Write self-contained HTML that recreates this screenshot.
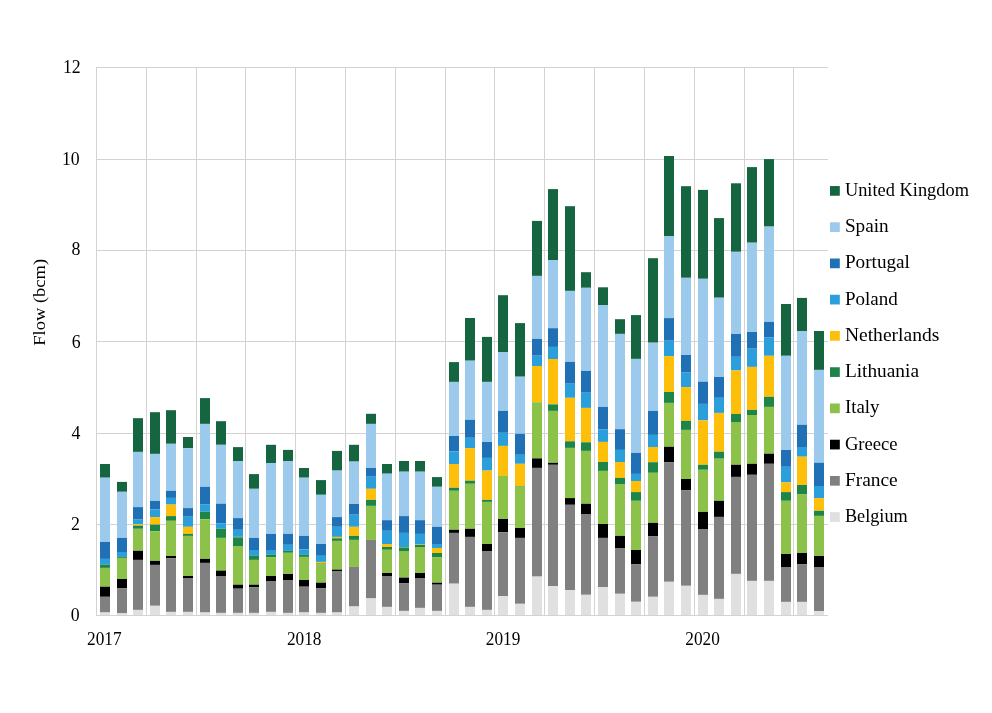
<!DOCTYPE html><html><head><meta charset="utf-8"><style>html,body{margin:0;padding:0;background:#fff;}svg{display:block;will-change:transform;}text{font-family:"Liberation Serif",serif;fill:#000;}</style></head><body>
<svg width="992" height="713" viewBox="0 0 992 713">
<rect width="992" height="713" fill="#fff"/>
<rect x="96" y="67" width="732" height="1" fill="#d3d3d3"/>
<rect x="96" y="159" width="732" height="1" fill="#d3d3d3"/>
<rect x="96" y="250" width="732" height="1" fill="#d3d3d3"/>
<rect x="96" y="341" width="732" height="1" fill="#d3d3d3"/>
<rect x="96" y="433" width="732" height="1" fill="#d3d3d3"/>
<rect x="96" y="524" width="732" height="1" fill="#d3d3d3"/>
<rect x="96" y="67" width="1" height="549" fill="#d3d3d3"/>
<rect x="146" y="67" width="1" height="549" fill="#d3d3d3"/>
<rect x="196" y="67" width="1" height="549" fill="#d3d3d3"/>
<rect x="245" y="67" width="1" height="549" fill="#d3d3d3"/>
<rect x="295" y="67" width="1" height="549" fill="#d3d3d3"/>
<rect x="345" y="67" width="1" height="549" fill="#d3d3d3"/>
<rect x="395" y="67" width="1" height="549" fill="#d3d3d3"/>
<rect x="445" y="67" width="1" height="549" fill="#d3d3d3"/>
<rect x="494" y="67" width="1" height="549" fill="#d3d3d3"/>
<rect x="544" y="67" width="1" height="549" fill="#d3d3d3"/>
<rect x="594" y="67" width="1" height="549" fill="#d3d3d3"/>
<rect x="644" y="67" width="1" height="549" fill="#d3d3d3"/>
<rect x="694" y="67" width="1" height="549" fill="#d3d3d3"/>
<rect x="744" y="67" width="1" height="549" fill="#d3d3d3"/>
<rect x="793" y="67" width="1" height="549" fill="#d3d3d3"/>
<rect x="96" y="615" width="732" height="1" fill="#d3d3d3"/>
<rect x="100.00" y="464.00" width="10" height="13.70" fill="#146540"/>
<rect x="100.00" y="477.70" width="10" height="64.20" fill="#9ccaed"/>
<rect x="100.00" y="541.90" width="10" height="17.00" fill="#1f70b5"/>
<rect x="100.00" y="558.90" width="10" height="5.60" fill="#2a9fdb"/>
<rect x="100.00" y="564.50" width="10" height="3.40" fill="#1e8549"/>
<rect x="100.00" y="567.90" width="10" height="18.80" fill="#8cc24a"/>
<rect x="100.00" y="586.70" width="10" height="10.10" fill="#000000"/>
<rect x="100.00" y="596.80" width="10" height="15.70" fill="#808080"/>
<rect x="100.00" y="612.50" width="10" height="2.50" fill="#e0e0e0"/>
<rect x="117.00" y="481.90" width="10" height="9.90" fill="#146540"/>
<rect x="117.00" y="491.80" width="10" height="46.10" fill="#9ccaed"/>
<rect x="117.00" y="537.90" width="10" height="14.10" fill="#1f70b5"/>
<rect x="117.00" y="552.00" width="10" height="4.90" fill="#2a9fdb"/>
<rect x="117.00" y="556.90" width="10" height="1.00" fill="#1e8549"/>
<rect x="117.00" y="557.90" width="10" height="21.10" fill="#8cc24a"/>
<rect x="117.00" y="579.00" width="10" height="9.10" fill="#000000"/>
<rect x="117.00" y="588.10" width="10" height="25.20" fill="#808080"/>
<rect x="117.00" y="613.30" width="10" height="1.70" fill="#e0e0e0"/>
<rect x="133.00" y="418.20" width="10" height="33.70" fill="#146540"/>
<rect x="133.00" y="451.90" width="10" height="55.20" fill="#9ccaed"/>
<rect x="133.00" y="507.10" width="10" height="12.50" fill="#1f70b5"/>
<rect x="133.00" y="519.60" width="10" height="4.60" fill="#2a9fdb"/>
<rect x="133.00" y="524.20" width="10" height="1.40" fill="#fdbf0a"/>
<rect x="133.00" y="525.60" width="10" height="3.20" fill="#1e8549"/>
<rect x="133.00" y="528.80" width="10" height="22.00" fill="#8cc24a"/>
<rect x="133.00" y="550.80" width="10" height="9.10" fill="#000000"/>
<rect x="133.00" y="559.90" width="10" height="50.00" fill="#808080"/>
<rect x="133.00" y="609.90" width="10" height="5.10" fill="#e0e0e0"/>
<rect x="150.00" y="412.20" width="10" height="41.70" fill="#146540"/>
<rect x="150.00" y="453.90" width="10" height="47.00" fill="#9ccaed"/>
<rect x="150.00" y="500.90" width="10" height="8.60" fill="#1f70b5"/>
<rect x="150.00" y="509.50" width="10" height="7.60" fill="#2a9fdb"/>
<rect x="150.00" y="517.10" width="10" height="7.50" fill="#fdbf0a"/>
<rect x="150.00" y="524.60" width="10" height="6.70" fill="#1e8549"/>
<rect x="150.00" y="531.30" width="10" height="29.60" fill="#8cc24a"/>
<rect x="150.00" y="560.90" width="10" height="4.00" fill="#000000"/>
<rect x="150.00" y="564.90" width="10" height="40.90" fill="#808080"/>
<rect x="150.00" y="605.80" width="10" height="9.20" fill="#e0e0e0"/>
<rect x="166.00" y="410.20" width="10" height="33.60" fill="#146540"/>
<rect x="166.00" y="443.80" width="10" height="47.00" fill="#9ccaed"/>
<rect x="166.00" y="490.80" width="10" height="7.10" fill="#1f70b5"/>
<rect x="166.00" y="497.90" width="10" height="6.70" fill="#2a9fdb"/>
<rect x="166.00" y="504.60" width="10" height="11.50" fill="#fdbf0a"/>
<rect x="166.00" y="516.10" width="10" height="4.70" fill="#1e8549"/>
<rect x="166.00" y="520.80" width="10" height="35.20" fill="#8cc24a"/>
<rect x="166.00" y="556.00" width="10" height="2.10" fill="#000000"/>
<rect x="166.00" y="558.10" width="10" height="53.80" fill="#808080"/>
<rect x="166.00" y="611.90" width="10" height="3.10" fill="#e0e0e0"/>
<rect x="183.00" y="437.00" width="10" height="11.10" fill="#146540"/>
<rect x="183.00" y="448.10" width="10" height="60.00" fill="#9ccaed"/>
<rect x="183.00" y="508.10" width="10" height="8.60" fill="#1f70b5"/>
<rect x="183.00" y="516.70" width="10" height="10.10" fill="#2a9fdb"/>
<rect x="183.00" y="526.80" width="10" height="7.10" fill="#fdbf0a"/>
<rect x="183.00" y="533.90" width="10" height="2.00" fill="#1e8549"/>
<rect x="183.00" y="535.90" width="10" height="40.10" fill="#8cc24a"/>
<rect x="183.00" y="576.00" width="10" height="2.00" fill="#000000"/>
<rect x="183.00" y="578.00" width="10" height="33.90" fill="#808080"/>
<rect x="183.00" y="611.90" width="10" height="3.10" fill="#e0e0e0"/>
<rect x="200.00" y="398.10" width="10" height="25.80" fill="#146540"/>
<rect x="200.00" y="423.90" width="10" height="62.90" fill="#9ccaed"/>
<rect x="200.00" y="486.80" width="10" height="17.80" fill="#1f70b5"/>
<rect x="200.00" y="504.60" width="10" height="7.10" fill="#2a9fdb"/>
<rect x="200.00" y="511.70" width="10" height="7.50" fill="#1e8549"/>
<rect x="200.00" y="519.20" width="10" height="39.70" fill="#8cc24a"/>
<rect x="200.00" y="558.90" width="10" height="4.00" fill="#000000"/>
<rect x="200.00" y="562.90" width="10" height="49.60" fill="#808080"/>
<rect x="200.00" y="612.50" width="10" height="2.50" fill="#e0e0e0"/>
<rect x="216.00" y="421.20" width="10" height="23.60" fill="#146540"/>
<rect x="216.00" y="444.80" width="10" height="58.90" fill="#9ccaed"/>
<rect x="216.00" y="503.70" width="10" height="19.50" fill="#1f70b5"/>
<rect x="216.00" y="523.20" width="10" height="5.40" fill="#2a9fdb"/>
<rect x="216.00" y="528.60" width="10" height="9.30" fill="#1e8549"/>
<rect x="216.00" y="537.90" width="10" height="32.70" fill="#8cc24a"/>
<rect x="216.00" y="570.60" width="10" height="5.40" fill="#000000"/>
<rect x="216.00" y="576.00" width="10" height="36.90" fill="#808080"/>
<rect x="216.00" y="612.90" width="10" height="2.10" fill="#e0e0e0"/>
<rect x="233.00" y="447.10" width="10" height="13.90" fill="#146540"/>
<rect x="233.00" y="461.00" width="10" height="57.10" fill="#9ccaed"/>
<rect x="233.00" y="518.10" width="10" height="11.70" fill="#1f70b5"/>
<rect x="233.00" y="529.80" width="10" height="7.10" fill="#2a9fdb"/>
<rect x="233.00" y="536.90" width="10" height="0.40" fill="#fdbf0a"/>
<rect x="233.00" y="537.30" width="10" height="8.70" fill="#1e8549"/>
<rect x="233.00" y="546.00" width="10" height="38.70" fill="#8cc24a"/>
<rect x="233.00" y="584.70" width="10" height="4.00" fill="#000000"/>
<rect x="233.00" y="588.70" width="10" height="24.20" fill="#808080"/>
<rect x="233.00" y="612.90" width="10" height="2.10" fill="#e0e0e0"/>
<rect x="249.00" y="474.10" width="10" height="14.70" fill="#146540"/>
<rect x="249.00" y="488.80" width="10" height="49.10" fill="#9ccaed"/>
<rect x="249.00" y="537.90" width="10" height="12.10" fill="#1f70b5"/>
<rect x="249.00" y="550.00" width="10" height="5.40" fill="#2a9fdb"/>
<rect x="249.00" y="555.40" width="10" height="4.50" fill="#1e8549"/>
<rect x="249.00" y="559.90" width="10" height="24.80" fill="#8cc24a"/>
<rect x="249.00" y="584.70" width="10" height="2.40" fill="#000000"/>
<rect x="249.00" y="587.10" width="10" height="25.80" fill="#808080"/>
<rect x="249.00" y="612.90" width="10" height="2.10" fill="#e0e0e0"/>
<rect x="266.00" y="444.80" width="10" height="18.20" fill="#146540"/>
<rect x="266.00" y="463.00" width="10" height="70.90" fill="#9ccaed"/>
<rect x="266.00" y="533.90" width="10" height="16.10" fill="#1f70b5"/>
<rect x="266.00" y="550.00" width="10" height="4.80" fill="#2a9fdb"/>
<rect x="266.00" y="554.80" width="10" height="2.30" fill="#1e8549"/>
<rect x="266.00" y="557.10" width="10" height="18.90" fill="#8cc24a"/>
<rect x="266.00" y="576.00" width="10" height="5.00" fill="#000000"/>
<rect x="266.00" y="581.00" width="10" height="30.90" fill="#808080"/>
<rect x="266.00" y="611.90" width="10" height="3.10" fill="#e0e0e0"/>
<rect x="283.00" y="449.90" width="10" height="11.10" fill="#146540"/>
<rect x="283.00" y="461.00" width="10" height="72.90" fill="#9ccaed"/>
<rect x="283.00" y="533.90" width="10" height="10.90" fill="#1f70b5"/>
<rect x="283.00" y="544.80" width="10" height="6.00" fill="#2a9fdb"/>
<rect x="283.00" y="550.80" width="10" height="2.00" fill="#1e8549"/>
<rect x="283.00" y="552.80" width="10" height="21.20" fill="#8cc24a"/>
<rect x="283.00" y="574.00" width="10" height="6.00" fill="#000000"/>
<rect x="283.00" y="580.00" width="10" height="32.90" fill="#808080"/>
<rect x="283.00" y="612.90" width="10" height="2.10" fill="#e0e0e0"/>
<rect x="299.00" y="468.00" width="10" height="9.70" fill="#146540"/>
<rect x="299.00" y="477.70" width="10" height="58.20" fill="#9ccaed"/>
<rect x="299.00" y="535.90" width="10" height="13.50" fill="#1f70b5"/>
<rect x="299.00" y="549.40" width="10" height="5.40" fill="#2a9fdb"/>
<rect x="299.00" y="554.80" width="10" height="2.10" fill="#1e8549"/>
<rect x="299.00" y="556.90" width="10" height="23.10" fill="#8cc24a"/>
<rect x="299.00" y="580.00" width="10" height="6.70" fill="#000000"/>
<rect x="299.00" y="586.70" width="10" height="25.80" fill="#808080"/>
<rect x="299.00" y="612.50" width="10" height="2.50" fill="#e0e0e0"/>
<rect x="316.00" y="480.10" width="10" height="14.70" fill="#146540"/>
<rect x="316.00" y="494.80" width="10" height="49.20" fill="#9ccaed"/>
<rect x="316.00" y="544.00" width="10" height="11.80" fill="#1f70b5"/>
<rect x="316.00" y="555.80" width="10" height="6.10" fill="#2a9fdb"/>
<rect x="316.00" y="561.90" width="10" height="1.60" fill="#fdbf0a"/>
<rect x="316.00" y="563.50" width="10" height="1.00" fill="#1e8549"/>
<rect x="316.00" y="564.50" width="10" height="18.20" fill="#8cc24a"/>
<rect x="316.00" y="582.70" width="10" height="5.40" fill="#000000"/>
<rect x="316.00" y="588.10" width="10" height="24.80" fill="#808080"/>
<rect x="316.00" y="612.90" width="10" height="2.10" fill="#e0e0e0"/>
<rect x="332.00" y="450.90" width="10" height="19.70" fill="#146540"/>
<rect x="332.00" y="470.60" width="10" height="46.50" fill="#9ccaed"/>
<rect x="332.00" y="517.10" width="10" height="9.70" fill="#1f70b5"/>
<rect x="332.00" y="526.80" width="10" height="10.10" fill="#2a9fdb"/>
<rect x="332.00" y="536.90" width="10" height="1.40" fill="#fdbf0a"/>
<rect x="332.00" y="538.30" width="10" height="2.60" fill="#1e8549"/>
<rect x="332.00" y="540.90" width="10" height="28.70" fill="#8cc24a"/>
<rect x="332.00" y="569.60" width="10" height="1.40" fill="#000000"/>
<rect x="332.00" y="571.00" width="10" height="41.50" fill="#808080"/>
<rect x="332.00" y="612.50" width="10" height="2.50" fill="#e0e0e0"/>
<rect x="349.00" y="444.80" width="10" height="16.80" fill="#146540"/>
<rect x="349.00" y="461.60" width="10" height="42.40" fill="#9ccaed"/>
<rect x="349.00" y="504.00" width="10" height="10.70" fill="#1f70b5"/>
<rect x="349.00" y="514.70" width="10" height="12.10" fill="#2a9fdb"/>
<rect x="349.00" y="526.80" width="10" height="9.10" fill="#fdbf0a"/>
<rect x="349.00" y="535.90" width="10" height="4.00" fill="#1e8549"/>
<rect x="349.00" y="539.90" width="10" height="27.00" fill="#8cc24a"/>
<rect x="349.00" y="566.90" width="10" height="39.60" fill="#808080"/>
<rect x="349.00" y="606.50" width="10" height="8.50" fill="#e0e0e0"/>
<rect x="366.00" y="413.80" width="10" height="10.10" fill="#146540"/>
<rect x="366.00" y="423.90" width="10" height="44.10" fill="#9ccaed"/>
<rect x="366.00" y="468.00" width="10" height="8.70" fill="#1f70b5"/>
<rect x="366.00" y="476.70" width="10" height="12.10" fill="#2a9fdb"/>
<rect x="366.00" y="488.80" width="10" height="11.10" fill="#fdbf0a"/>
<rect x="366.00" y="499.90" width="10" height="6.00" fill="#1e8549"/>
<rect x="366.00" y="505.90" width="10" height="34.00" fill="#8cc24a"/>
<rect x="366.00" y="539.90" width="10" height="58.50" fill="#808080"/>
<rect x="366.00" y="598.40" width="10" height="16.60" fill="#e0e0e0"/>
<rect x="382.00" y="464.00" width="10" height="9.70" fill="#146540"/>
<rect x="382.00" y="473.70" width="10" height="46.50" fill="#9ccaed"/>
<rect x="382.00" y="520.20" width="10" height="10.60" fill="#1f70b5"/>
<rect x="382.00" y="530.80" width="10" height="13.20" fill="#2a9fdb"/>
<rect x="382.00" y="544.00" width="10" height="3.00" fill="#fdbf0a"/>
<rect x="382.00" y="547.00" width="10" height="2.80" fill="#1e8549"/>
<rect x="382.00" y="549.80" width="10" height="23.20" fill="#8cc24a"/>
<rect x="382.00" y="573.00" width="10" height="3.00" fill="#000000"/>
<rect x="382.00" y="576.00" width="10" height="30.90" fill="#808080"/>
<rect x="382.00" y="606.90" width="10" height="8.10" fill="#e0e0e0"/>
<rect x="399.00" y="461.00" width="10" height="10.70" fill="#146540"/>
<rect x="399.00" y="471.70" width="10" height="44.40" fill="#9ccaed"/>
<rect x="399.00" y="516.10" width="10" height="16.80" fill="#1f70b5"/>
<rect x="399.00" y="532.90" width="10" height="14.10" fill="#2a9fdb"/>
<rect x="399.00" y="547.00" width="10" height="0.40" fill="#fdbf0a"/>
<rect x="399.00" y="547.40" width="10" height="3.60" fill="#1e8549"/>
<rect x="399.00" y="551.00" width="10" height="26.60" fill="#8cc24a"/>
<rect x="399.00" y="577.60" width="10" height="5.50" fill="#000000"/>
<rect x="399.00" y="583.10" width="10" height="27.80" fill="#808080"/>
<rect x="399.00" y="610.90" width="10" height="4.10" fill="#e0e0e0"/>
<rect x="415.00" y="461.00" width="10" height="10.70" fill="#146540"/>
<rect x="415.00" y="471.70" width="10" height="48.50" fill="#9ccaed"/>
<rect x="415.00" y="520.20" width="10" height="13.70" fill="#1f70b5"/>
<rect x="415.00" y="533.90" width="10" height="10.50" fill="#2a9fdb"/>
<rect x="415.00" y="544.40" width="10" height="0.40" fill="#fdbf0a"/>
<rect x="415.00" y="544.80" width="10" height="2.20" fill="#1e8549"/>
<rect x="415.00" y="547.00" width="10" height="26.00" fill="#8cc24a"/>
<rect x="415.00" y="573.00" width="10" height="5.00" fill="#000000"/>
<rect x="415.00" y="578.00" width="10" height="29.90" fill="#808080"/>
<rect x="415.00" y="607.90" width="10" height="7.10" fill="#e0e0e0"/>
<rect x="432.00" y="477.10" width="10" height="9.70" fill="#146540"/>
<rect x="432.00" y="486.80" width="10" height="40.00" fill="#9ccaed"/>
<rect x="432.00" y="526.80" width="10" height="17.20" fill="#1f70b5"/>
<rect x="432.00" y="544.00" width="10" height="4.00" fill="#2a9fdb"/>
<rect x="432.00" y="548.00" width="10" height="5.00" fill="#fdbf0a"/>
<rect x="432.00" y="553.00" width="10" height="4.10" fill="#1e8549"/>
<rect x="432.00" y="557.10" width="10" height="25.60" fill="#8cc24a"/>
<rect x="432.00" y="582.70" width="10" height="2.00" fill="#000000"/>
<rect x="432.00" y="584.70" width="10" height="26.20" fill="#808080"/>
<rect x="432.00" y="610.90" width="10" height="4.10" fill="#e0e0e0"/>
<rect x="449.00" y="362.10" width="10" height="19.80" fill="#146540"/>
<rect x="449.00" y="381.90" width="10" height="54.10" fill="#9ccaed"/>
<rect x="449.00" y="436.00" width="10" height="15.50" fill="#1f70b5"/>
<rect x="449.00" y="451.50" width="10" height="12.50" fill="#2a9fdb"/>
<rect x="449.00" y="464.00" width="10" height="23.80" fill="#fdbf0a"/>
<rect x="449.00" y="487.80" width="10" height="3.00" fill="#1e8549"/>
<rect x="449.00" y="490.80" width="10" height="39.00" fill="#8cc24a"/>
<rect x="449.00" y="529.80" width="10" height="3.10" fill="#000000"/>
<rect x="449.00" y="532.90" width="10" height="50.80" fill="#808080"/>
<rect x="449.00" y="583.70" width="10" height="31.30" fill="#e0e0e0"/>
<rect x="465.00" y="318.00" width="10" height="42.70" fill="#146540"/>
<rect x="465.00" y="360.70" width="10" height="59.10" fill="#9ccaed"/>
<rect x="465.00" y="419.80" width="10" height="18.00" fill="#1f70b5"/>
<rect x="465.00" y="437.80" width="10" height="10.30" fill="#2a9fdb"/>
<rect x="465.00" y="448.10" width="10" height="32.60" fill="#fdbf0a"/>
<rect x="465.00" y="480.70" width="10" height="3.10" fill="#1e8549"/>
<rect x="465.00" y="483.80" width="10" height="45.00" fill="#8cc24a"/>
<rect x="465.00" y="528.80" width="10" height="8.10" fill="#000000"/>
<rect x="465.00" y="536.90" width="10" height="70.00" fill="#808080"/>
<rect x="465.00" y="606.90" width="10" height="8.10" fill="#e0e0e0"/>
<rect x="482.00" y="336.90" width="10" height="45.00" fill="#146540"/>
<rect x="482.00" y="381.90" width="10" height="60.10" fill="#9ccaed"/>
<rect x="482.00" y="442.00" width="10" height="15.90" fill="#1f70b5"/>
<rect x="482.00" y="457.90" width="10" height="12.70" fill="#2a9fdb"/>
<rect x="482.00" y="470.60" width="10" height="29.30" fill="#fdbf0a"/>
<rect x="482.00" y="499.90" width="10" height="2.00" fill="#1e8549"/>
<rect x="482.00" y="501.90" width="10" height="42.10" fill="#8cc24a"/>
<rect x="482.00" y="544.00" width="10" height="7.00" fill="#000000"/>
<rect x="482.00" y="551.00" width="10" height="58.90" fill="#808080"/>
<rect x="482.00" y="609.90" width="10" height="5.10" fill="#e0e0e0"/>
<rect x="498.00" y="295.20" width="10" height="56.80" fill="#146540"/>
<rect x="498.00" y="352.00" width="10" height="58.90" fill="#9ccaed"/>
<rect x="498.00" y="410.90" width="10" height="21.90" fill="#1f70b5"/>
<rect x="498.00" y="432.80" width="10" height="13.10" fill="#2a9fdb"/>
<rect x="498.00" y="445.90" width="10" height="30.00" fill="#fdbf0a"/>
<rect x="498.00" y="475.90" width="10" height="43.10" fill="#8cc24a"/>
<rect x="498.00" y="519.00" width="10" height="13.30" fill="#000000"/>
<rect x="498.00" y="532.30" width="10" height="63.90" fill="#808080"/>
<rect x="498.00" y="596.20" width="10" height="18.80" fill="#e0e0e0"/>
<rect x="515.00" y="323.10" width="10" height="53.60" fill="#146540"/>
<rect x="515.00" y="376.70" width="10" height="57.10" fill="#9ccaed"/>
<rect x="515.00" y="433.80" width="10" height="21.00" fill="#1f70b5"/>
<rect x="515.00" y="454.80" width="10" height="9.00" fill="#2a9fdb"/>
<rect x="515.00" y="463.80" width="10" height="22.20" fill="#fdbf0a"/>
<rect x="515.00" y="486.00" width="10" height="0.60" fill="#1e8549"/>
<rect x="515.00" y="486.60" width="10" height="41.40" fill="#8cc24a"/>
<rect x="515.00" y="528.00" width="10" height="9.90" fill="#000000"/>
<rect x="515.00" y="537.90" width="10" height="65.90" fill="#808080"/>
<rect x="515.00" y="603.80" width="10" height="11.20" fill="#e0e0e0"/>
<rect x="532.00" y="220.90" width="10" height="55.00" fill="#146540"/>
<rect x="532.00" y="275.90" width="10" height="63.00" fill="#9ccaed"/>
<rect x="532.00" y="338.90" width="10" height="16.80" fill="#1f70b5"/>
<rect x="532.00" y="355.70" width="10" height="10.30" fill="#2a9fdb"/>
<rect x="532.00" y="366.00" width="10" height="36.20" fill="#fdbf0a"/>
<rect x="532.00" y="402.20" width="10" height="56.20" fill="#8cc24a"/>
<rect x="532.00" y="458.40" width="10" height="9.50" fill="#000000"/>
<rect x="532.00" y="467.90" width="10" height="108.70" fill="#808080"/>
<rect x="532.00" y="576.60" width="10" height="38.40" fill="#e0e0e0"/>
<rect x="548.00" y="189.10" width="10" height="70.90" fill="#146540"/>
<rect x="548.00" y="260.00" width="10" height="68.20" fill="#9ccaed"/>
<rect x="548.00" y="328.20" width="10" height="18.70" fill="#1f70b5"/>
<rect x="548.00" y="346.90" width="10" height="12.10" fill="#2a9fdb"/>
<rect x="548.00" y="359.00" width="10" height="45.40" fill="#fdbf0a"/>
<rect x="548.00" y="404.40" width="10" height="6.50" fill="#1e8549"/>
<rect x="548.00" y="410.90" width="10" height="51.90" fill="#8cc24a"/>
<rect x="548.00" y="462.80" width="10" height="2.00" fill="#000000"/>
<rect x="548.00" y="464.80" width="10" height="121.30" fill="#808080"/>
<rect x="548.00" y="586.10" width="10" height="28.90" fill="#e0e0e0"/>
<rect x="565.00" y="206.20" width="10" height="84.70" fill="#146540"/>
<rect x="565.00" y="290.90" width="10" height="71.00" fill="#9ccaed"/>
<rect x="565.00" y="361.90" width="10" height="21.80" fill="#1f70b5"/>
<rect x="565.00" y="383.70" width="10" height="14.10" fill="#2a9fdb"/>
<rect x="565.00" y="397.80" width="10" height="43.50" fill="#fdbf0a"/>
<rect x="565.00" y="441.30" width="10" height="6.60" fill="#1e8549"/>
<rect x="565.00" y="447.90" width="10" height="50.20" fill="#8cc24a"/>
<rect x="565.00" y="498.10" width="10" height="6.70" fill="#000000"/>
<rect x="565.00" y="504.80" width="10" height="85.30" fill="#808080"/>
<rect x="565.00" y="590.10" width="10" height="24.90" fill="#e0e0e0"/>
<rect x="581.00" y="272.20" width="10" height="15.60" fill="#146540"/>
<rect x="581.00" y="287.80" width="10" height="83.10" fill="#9ccaed"/>
<rect x="581.00" y="370.90" width="10" height="21.80" fill="#1f70b5"/>
<rect x="581.00" y="392.70" width="10" height="15.20" fill="#2a9fdb"/>
<rect x="581.00" y="407.90" width="10" height="34.40" fill="#fdbf0a"/>
<rect x="581.00" y="442.30" width="10" height="8.60" fill="#1e8549"/>
<rect x="581.00" y="450.90" width="10" height="52.90" fill="#8cc24a"/>
<rect x="581.00" y="503.80" width="10" height="10.20" fill="#000000"/>
<rect x="581.00" y="514.00" width="10" height="80.80" fill="#808080"/>
<rect x="581.00" y="594.80" width="10" height="20.20" fill="#e0e0e0"/>
<rect x="598.00" y="287.30" width="10" height="17.70" fill="#146540"/>
<rect x="598.00" y="305.00" width="10" height="101.90" fill="#9ccaed"/>
<rect x="598.00" y="406.90" width="10" height="22.30" fill="#1f70b5"/>
<rect x="598.00" y="429.20" width="10" height="12.70" fill="#2a9fdb"/>
<rect x="598.00" y="441.90" width="10" height="20.10" fill="#fdbf0a"/>
<rect x="598.00" y="462.00" width="10" height="8.90" fill="#1e8549"/>
<rect x="598.00" y="470.90" width="10" height="53.10" fill="#8cc24a"/>
<rect x="598.00" y="524.00" width="10" height="13.90" fill="#000000"/>
<rect x="598.00" y="537.90" width="10" height="49.20" fill="#808080"/>
<rect x="598.00" y="587.10" width="10" height="27.90" fill="#e0e0e0"/>
<rect x="615.00" y="319.20" width="10" height="14.70" fill="#146540"/>
<rect x="615.00" y="333.90" width="10" height="95.30" fill="#9ccaed"/>
<rect x="615.00" y="429.20" width="10" height="20.70" fill="#1f70b5"/>
<rect x="615.00" y="449.90" width="10" height="12.10" fill="#2a9fdb"/>
<rect x="615.00" y="462.00" width="10" height="15.90" fill="#fdbf0a"/>
<rect x="615.00" y="477.90" width="10" height="6.10" fill="#1e8549"/>
<rect x="615.00" y="484.00" width="10" height="51.90" fill="#8cc24a"/>
<rect x="615.00" y="535.90" width="10" height="12.10" fill="#000000"/>
<rect x="615.00" y="548.00" width="10" height="45.80" fill="#808080"/>
<rect x="615.00" y="593.80" width="10" height="21.20" fill="#e0e0e0"/>
<rect x="631.00" y="315.10" width="10" height="43.80" fill="#146540"/>
<rect x="631.00" y="358.90" width="10" height="94.00" fill="#9ccaed"/>
<rect x="631.00" y="452.90" width="10" height="21.00" fill="#1f70b5"/>
<rect x="631.00" y="473.90" width="10" height="7.10" fill="#2a9fdb"/>
<rect x="631.00" y="481.00" width="10" height="11.10" fill="#fdbf0a"/>
<rect x="631.00" y="492.10" width="10" height="8.70" fill="#1e8549"/>
<rect x="631.00" y="500.80" width="10" height="49.20" fill="#8cc24a"/>
<rect x="631.00" y="550.00" width="10" height="14.10" fill="#000000"/>
<rect x="631.00" y="564.10" width="10" height="37.70" fill="#808080"/>
<rect x="631.00" y="601.80" width="10" height="13.20" fill="#e0e0e0"/>
<rect x="648.00" y="258.20" width="10" height="84.50" fill="#146540"/>
<rect x="648.00" y="342.70" width="10" height="68.20" fill="#9ccaed"/>
<rect x="648.00" y="410.90" width="10" height="24.00" fill="#1f70b5"/>
<rect x="648.00" y="434.90" width="10" height="12.10" fill="#2a9fdb"/>
<rect x="648.00" y="447.00" width="10" height="15.20" fill="#fdbf0a"/>
<rect x="648.00" y="462.20" width="10" height="10.60" fill="#1e8549"/>
<rect x="648.00" y="472.80" width="10" height="50.10" fill="#8cc24a"/>
<rect x="648.00" y="522.90" width="10" height="13.20" fill="#000000"/>
<rect x="648.00" y="536.10" width="10" height="60.70" fill="#808080"/>
<rect x="648.00" y="596.80" width="10" height="18.20" fill="#e0e0e0"/>
<rect x="664.00" y="156.00" width="10" height="80.00" fill="#146540"/>
<rect x="664.00" y="236.00" width="10" height="82.10" fill="#9ccaed"/>
<rect x="664.00" y="318.10" width="10" height="22.60" fill="#1f70b5"/>
<rect x="664.00" y="340.70" width="10" height="15.40" fill="#2a9fdb"/>
<rect x="664.00" y="356.10" width="10" height="35.90" fill="#fdbf0a"/>
<rect x="664.00" y="392.00" width="10" height="10.90" fill="#1e8549"/>
<rect x="664.00" y="402.90" width="10" height="43.90" fill="#8cc24a"/>
<rect x="664.00" y="446.80" width="10" height="15.30" fill="#000000"/>
<rect x="664.00" y="462.10" width="10" height="119.70" fill="#808080"/>
<rect x="664.00" y="581.80" width="10" height="33.20" fill="#e0e0e0"/>
<rect x="681.00" y="186.20" width="10" height="91.60" fill="#146540"/>
<rect x="681.00" y="277.80" width="10" height="77.20" fill="#9ccaed"/>
<rect x="681.00" y="355.00" width="10" height="17.60" fill="#1f70b5"/>
<rect x="681.00" y="372.60" width="10" height="14.50" fill="#2a9fdb"/>
<rect x="681.00" y="387.10" width="10" height="33.80" fill="#fdbf0a"/>
<rect x="681.00" y="420.90" width="10" height="9.00" fill="#1e8549"/>
<rect x="681.00" y="429.90" width="10" height="49.10" fill="#8cc24a"/>
<rect x="681.00" y="479.00" width="10" height="11.10" fill="#000000"/>
<rect x="681.00" y="490.10" width="10" height="95.70" fill="#808080"/>
<rect x="681.00" y="585.80" width="10" height="29.20" fill="#e0e0e0"/>
<rect x="698.00" y="189.90" width="10" height="88.90" fill="#146540"/>
<rect x="698.00" y="278.80" width="10" height="102.90" fill="#9ccaed"/>
<rect x="698.00" y="381.70" width="10" height="22.20" fill="#1f70b5"/>
<rect x="698.00" y="403.90" width="10" height="16.50" fill="#2a9fdb"/>
<rect x="698.00" y="420.40" width="10" height="44.40" fill="#fdbf0a"/>
<rect x="698.00" y="464.80" width="10" height="5.00" fill="#1e8549"/>
<rect x="698.00" y="469.80" width="10" height="42.10" fill="#8cc24a"/>
<rect x="698.00" y="511.90" width="10" height="17.10" fill="#000000"/>
<rect x="698.00" y="529.00" width="10" height="65.90" fill="#808080"/>
<rect x="698.00" y="594.90" width="10" height="20.10" fill="#e0e0e0"/>
<rect x="714.00" y="218.10" width="10" height="79.60" fill="#146540"/>
<rect x="714.00" y="297.70" width="10" height="79.30" fill="#9ccaed"/>
<rect x="714.00" y="377.00" width="10" height="20.80" fill="#1f70b5"/>
<rect x="714.00" y="397.80" width="10" height="15.10" fill="#2a9fdb"/>
<rect x="714.00" y="412.90" width="10" height="38.80" fill="#fdbf0a"/>
<rect x="714.00" y="451.70" width="10" height="7.00" fill="#1e8549"/>
<rect x="714.00" y="458.70" width="10" height="42.10" fill="#8cc24a"/>
<rect x="714.00" y="500.80" width="10" height="16.10" fill="#000000"/>
<rect x="714.00" y="516.90" width="10" height="82.00" fill="#808080"/>
<rect x="714.00" y="598.90" width="10" height="16.10" fill="#e0e0e0"/>
<rect x="731.00" y="183.30" width="10" height="68.50" fill="#146540"/>
<rect x="731.00" y="251.80" width="10" height="82.20" fill="#9ccaed"/>
<rect x="731.00" y="334.00" width="10" height="22.80" fill="#1f70b5"/>
<rect x="731.00" y="356.80" width="10" height="13.70" fill="#2a9fdb"/>
<rect x="731.00" y="370.50" width="10" height="43.50" fill="#fdbf0a"/>
<rect x="731.00" y="414.00" width="10" height="8.00" fill="#1e8549"/>
<rect x="731.00" y="422.00" width="10" height="42.80" fill="#8cc24a"/>
<rect x="731.00" y="464.80" width="10" height="12.10" fill="#000000"/>
<rect x="731.00" y="476.90" width="10" height="97.00" fill="#808080"/>
<rect x="731.00" y="573.90" width="10" height="41.10" fill="#e0e0e0"/>
<rect x="747.00" y="167.10" width="10" height="75.60" fill="#146540"/>
<rect x="747.00" y="242.70" width="10" height="89.30" fill="#9ccaed"/>
<rect x="747.00" y="332.00" width="10" height="16.70" fill="#1f70b5"/>
<rect x="747.00" y="348.70" width="10" height="18.20" fill="#2a9fdb"/>
<rect x="747.00" y="366.90" width="10" height="43.00" fill="#fdbf0a"/>
<rect x="747.00" y="409.90" width="10" height="5.10" fill="#1e8549"/>
<rect x="747.00" y="415.00" width="10" height="48.80" fill="#8cc24a"/>
<rect x="747.00" y="463.80" width="10" height="11.00" fill="#000000"/>
<rect x="747.00" y="474.80" width="10" height="106.10" fill="#808080"/>
<rect x="747.00" y="580.90" width="10" height="34.10" fill="#e0e0e0"/>
<rect x="764.00" y="159.10" width="10" height="67.50" fill="#146540"/>
<rect x="764.00" y="226.60" width="10" height="95.30" fill="#9ccaed"/>
<rect x="764.00" y="321.90" width="10" height="15.70" fill="#1f70b5"/>
<rect x="764.00" y="337.60" width="10" height="18.20" fill="#2a9fdb"/>
<rect x="764.00" y="355.80" width="10" height="41.00" fill="#fdbf0a"/>
<rect x="764.00" y="396.80" width="10" height="10.10" fill="#1e8549"/>
<rect x="764.00" y="406.90" width="10" height="46.80" fill="#8cc24a"/>
<rect x="764.00" y="453.70" width="10" height="10.10" fill="#000000"/>
<rect x="764.00" y="463.80" width="10" height="117.10" fill="#808080"/>
<rect x="764.00" y="580.90" width="10" height="34.10" fill="#e0e0e0"/>
<rect x="781.00" y="304.00" width="10" height="51.80" fill="#146540"/>
<rect x="781.00" y="355.80" width="10" height="94.20" fill="#9ccaed"/>
<rect x="781.00" y="450.00" width="10" height="16.80" fill="#1f70b5"/>
<rect x="781.00" y="466.80" width="10" height="15.60" fill="#2a9fdb"/>
<rect x="781.00" y="482.40" width="10" height="9.70" fill="#fdbf0a"/>
<rect x="781.00" y="492.10" width="10" height="8.70" fill="#1e8549"/>
<rect x="781.00" y="500.80" width="10" height="53.20" fill="#8cc24a"/>
<rect x="781.00" y="554.00" width="10" height="13.00" fill="#000000"/>
<rect x="781.00" y="567.00" width="10" height="34.90" fill="#808080"/>
<rect x="781.00" y="601.90" width="10" height="13.10" fill="#e0e0e0"/>
<rect x="797.00" y="297.90" width="10" height="33.10" fill="#146540"/>
<rect x="797.00" y="331.00" width="10" height="93.80" fill="#9ccaed"/>
<rect x="797.00" y="424.80" width="10" height="22.20" fill="#1f70b5"/>
<rect x="797.00" y="447.00" width="10" height="9.70" fill="#2a9fdb"/>
<rect x="797.00" y="456.70" width="10" height="28.30" fill="#fdbf0a"/>
<rect x="797.00" y="485.00" width="10" height="9.10" fill="#1e8549"/>
<rect x="797.00" y="494.10" width="10" height="58.90" fill="#8cc24a"/>
<rect x="797.00" y="553.00" width="10" height="11.10" fill="#000000"/>
<rect x="797.00" y="564.10" width="10" height="37.80" fill="#808080"/>
<rect x="797.00" y="601.90" width="10" height="13.10" fill="#e0e0e0"/>
<rect x="814.00" y="331.00" width="10" height="38.90" fill="#146540"/>
<rect x="814.00" y="369.90" width="10" height="92.80" fill="#9ccaed"/>
<rect x="814.00" y="462.70" width="10" height="23.30" fill="#1f70b5"/>
<rect x="814.00" y="486.00" width="10" height="12.10" fill="#2a9fdb"/>
<rect x="814.00" y="498.10" width="10" height="12.70" fill="#fdbf0a"/>
<rect x="814.00" y="510.80" width="10" height="5.10" fill="#1e8549"/>
<rect x="814.00" y="515.90" width="10" height="40.10" fill="#8cc24a"/>
<rect x="814.00" y="556.00" width="10" height="11.00" fill="#000000"/>
<rect x="814.00" y="567.00" width="10" height="44.00" fill="#808080"/>
<rect x="814.00" y="611.00" width="10" height="4.00" fill="#e0e0e0"/>
<rect x="830" y="186.05" width="9.8" height="9.7" fill="#146540"/>
<rect x="830" y="222.29" width="9.8" height="9.7" fill="#9ccaed"/>
<rect x="830" y="258.53" width="9.8" height="9.7" fill="#1f70b5"/>
<rect x="830" y="294.77" width="9.8" height="9.7" fill="#2a9fdb"/>
<rect x="830" y="331.01" width="9.8" height="9.7" fill="#fdbf0a"/>
<rect x="830" y="367.25" width="9.8" height="9.7" fill="#1e8549"/>
<rect x="830" y="403.49" width="9.8" height="9.7" fill="#8cc24a"/>
<rect x="830" y="439.73" width="9.8" height="9.7" fill="#000000"/>
<rect x="830" y="475.97" width="9.8" height="9.7" fill="#808080"/>
<rect x="830" y="512.21" width="9.8" height="9.7" fill="#e0e0e0"/>
<text font-size="17.30" text-anchor="middle" transform="translate(44.70,302.30) rotate(-90) scale(1.0700,1)">Flow (bcm)</text>
<text font-size="18.20" transform="translate(844.90,195.85) scale(1.0104,1)">United Kingdom</text>
<text font-size="18.20" transform="translate(844.90,232.09) scale(1.0549,1)">Spain</text>
<text font-size="18.20" transform="translate(844.90,268.33) scale(1.0563,1)">Portugal</text>
<text font-size="18.20" transform="translate(844.90,304.57) scale(1.0457,1)">Poland</text>
<text font-size="18.20" transform="translate(844.90,340.81) scale(1.0740,1)">Netherlands</text>
<text font-size="18.20" transform="translate(844.90,377.05) scale(1.0628,1)">Lithuania</text>
<text font-size="18.20" transform="translate(844.90,413.29) scale(1.0355,1)">Italy</text>
<text font-size="18.20" transform="translate(844.90,449.53) scale(1.0232,1)">Greece</text>
<text font-size="18.20" transform="translate(844.90,485.77) scale(1.0677,1)">France</text>
<text font-size="18.20" transform="translate(844.90,522.01) scale(1.0027,1)">Belgium</text>
<text font-size="17.80" transform="translate(70.80,621.25) scale(1.0000,1)">0</text>
<text font-size="17.80" transform="translate(71.00,529.50) scale(1.0000,1)">2</text>
<text font-size="17.80" transform="translate(71.40,438.75) scale(1.0000,1)">4</text>
<text font-size="17.80" transform="translate(71.70,348.00) scale(1.0000,1)">6</text>
<text font-size="17.80" transform="translate(71.60,255.00) scale(1.0000,1)">8</text>
<text font-size="17.80" transform="translate(61.90,165.00) scale(1.0000,1)">10</text>
<text font-size="17.80" transform="translate(62.90,73.25) scale(1.0000,1)">12</text>
<text font-size="17.80" transform="translate(87.10,644.75) scale(0.9700,1)">2017</text>
<text font-size="17.80" transform="translate(286.90,644.75) scale(0.9700,1)">2018</text>
<text font-size="17.80" transform="translate(485.85,644.75) scale(0.9700,1)">2019</text>
<text font-size="17.80" transform="translate(685.30,644.75) scale(0.9700,1)">2020</text>
</svg></body></html>
